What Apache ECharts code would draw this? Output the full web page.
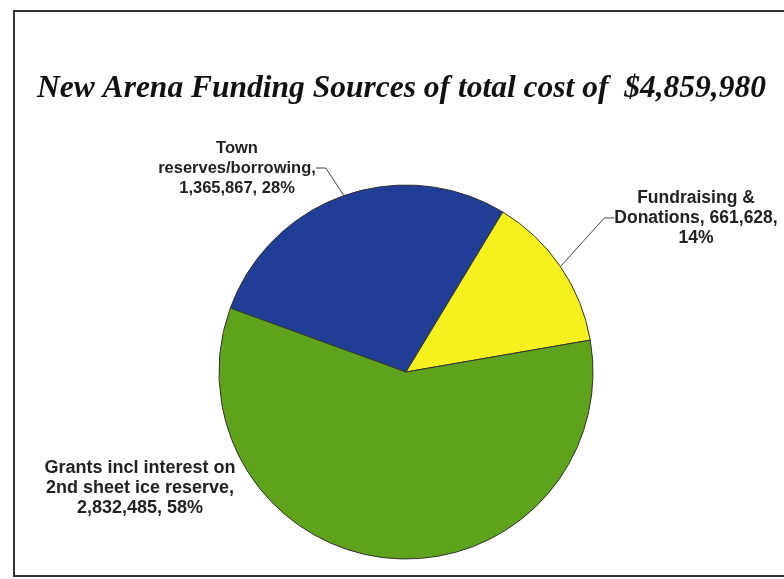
<!DOCTYPE html>
<html>
<head>
<meta charset="utf-8">
<script src="https://cdn.jsdelivr.net/npm/echarts@6/dist/echarts.min.js"></script>
<style>html,body{margin:0;padding:0;background:#fff}#c{width:784px;height:579px}</style>
</head>
<body>
<div id="c"></div>
<script>
const titleText = 'New Arena Funding Sources of total cost of  $4,859,980';
const categories = ['Town\nreserves/borrowing,', 'Fundraising &\nDonations,', 'Grants incl interest on\n2nd sheet ice reserve,'];
const values = [1365867, 661628, 2832485];
const percents = ['28%', '14%', '58%'];
const colors = ['#213e97', '#f6f01c', '#5fa31c'];

const labelPos = [
  {x: 237, y: 168, size: 16.5},
  {x: 696, y: 218, size: 17.5},
  {x: 140, y: 488, size: 18}
];
function fmt(n){return n.toString().replace(/\B(?=(\d{3})+(?!\d))/g, ',');}
const labelTexts = [
  categories[0] + '\n' + fmt(values[0]) + ', ' + percents[0],
  categories[1].split('\n')[0] + '\nDonations, ' + fmt(values[1]) + ',\n' + percents[1],
  categories[2] + '\n' + fmt(values[2]) + ', ' + percents[2]
];

const chart = echarts.init(document.getElementById('c'));
chart.setOption({
  animation: false,
  backgroundColor: '#fff',
  title: {
    text: titleText,
    left: 32,
    top: 68,
    textStyle: {fontFamily: 'Liberation Serif', fontStyle: 'italic', fontWeight: 'bold', fontSize: 31.5, color: '#111'}
  },
  graphic: [{
    type: 'rect',
    shape: {x: 14, y: 11, width: 800, height: 565},
    style: {fill: 'none', stroke: '#333', lineWidth: 2},
    silent: true
  }],
  series: [{
    type: 'pie',
    center: [406, 372],
    radius: 187,
    startAngle: 160,
    clockwise: true,
    itemStyle: {borderColor: '#333', borderWidth: 1},
    label: {
      show: true,
      position: 'outside',
      fontFamily: 'Liberation Sans',
      fontWeight: 'bold',
      fontSize: 16.5,
      lineHeight: 20,
      color: '#222',
      align: 'center',
      formatter: p => labelTexts[p.dataIndex]
    },
    labelLine: {show: true, length: 10, length2: 10, lineStyle: {color: '#444', width: 1}},
    labelLayout: function (params) {
      const p = labelPos[params.dataIndex];
      return {x: p.x, y: p.y, align: 'center', verticalAlign: 'middle'};
    },
    data: categories.map((c, i) => ({
      name: c,
      value: values[i],
      itemStyle: {color: colors[i]},
      label: {fontSize: labelPos[i].size},
      labelLine: {show: i !== 2}
    }))
  }]
});
</script>
</body>
</html>
